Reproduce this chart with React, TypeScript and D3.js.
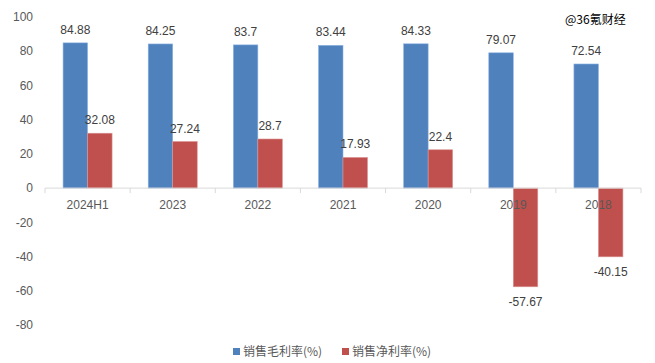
import React, { useEffect, useRef } from 'react';
import * as d3 from 'd3';

const categories = ['2024H1', '2023', '2022', '2021', '2020', '2019', '2018'];
const grossMargin = [84.88, 84.25, 83.7, 83.44, 84.33, 79.07, 72.54];
const netMargin = [32.08, 27.24, 28.7, 17.93, 22.4, -57.67, -40.15];
const seriesNames = ['销售毛利率(%)', '销售净利率(%)'];
const yTicks = [100, 80, 60, 40, 20, 0, -20, -40, -60, -80];

const colors = ['#4F81BD', '#C0504D'];
const numFont = '"Liberation Sans", Arial, sans-serif';
const cjkFont = '"Noto Sans CJK SC", sans-serif';

const App = () => {
    const ref = useRef<SVGSVGElement>(null);

    useEffect(() => {
        const svg = d3.select(ref.current);
        svg.selectAll('*').remove();

        const left = 45, right = 641;
        const y = d3.scaleLinear().domain([-80, 100]).range([325, 17]);
        const x = d3.scaleBand().domain(categories).range([left, right]);
        const barW = 24.5;

        // y tick labels
        svg.append('g')
            .selectAll('text')
            .data(yTicks)
            .enter().append('text')
            .attr('x', 33)
            .attr('y', d => y(d))
            .attr('dy', '0.35em')
            .attr('text-anchor', 'end')
            .attr('font-family', numFont)
            .attr('font-size', 12)
            .attr('fill', '#595959')
            .text(d => d);

        const series = [grossMargin, netMargin];
        series.forEach((vals, s) => {
            const g = svg.append('g');
            g.selectAll('rect')
                .data(vals)
                .enter().append('rect')
                .attr('x', (d, i) => x(categories[i])! + x.bandwidth() / 2 - barW + s * barW)
                .attr('y', d => y(Math.max(0, d)))
                .attr('width', barW)
                .attr('height', d => Math.abs(y(d) - y(0)))
                .attr('fill', colors[s])
                .attr('stroke', s === 0 ? '#8eb4e3' : '#d99694')
                .attr('stroke-width', 0.6);

            g.selectAll('text')
                .data(vals)
                .enter().append('text')
                .attr('x', (d, i) => x(categories[i])! + x.bandwidth() / 2 - barW / 2 + s * barW)
                .attr('y', d => d >= 0 ? y(d) - 9 : y(d) + 19)
                .attr('text-anchor', 'middle')
                .attr('font-family', numFont)
                .attr('font-size', 12)
                .attr('fill', '#404040')
                .text(d => d);
        });

        // x axis
        const axis = svg.append('g');
        axis.append('line')
            .attr('x1', left).attr('x2', right)
            .attr('y1', y(0)).attr('y2', y(0))
            .attr('stroke', '#d9d9d9');
        const edges = categories.map(c => x(c)!).concat([right]);
        axis.selectAll('.tick')
            .data(edges)
            .enter().append('line')
            .attr('x1', d => d).attr('x2', d => d)
            .attr('y1', y(0)).attr('y2', y(0) + 5)
            .attr('stroke', '#d9d9d9');
        axis.selectAll('text')
            .data(categories)
            .enter().append('text')
            .attr('x', d => x(d)! + x.bandwidth() / 2)
            .attr('y', y(0) + 21)
            .attr('text-anchor', 'middle')
            .attr('font-family', numFont)
            .attr('font-size', 12)
            .attr('fill', '#595959')
            .text(d => d);

        // legend
        const legendX = [233, 342];
        seriesNames.forEach((name, i) => {
            svg.append('rect')
                .attr('x', legendX[i]).attr('y', 348)
                .attr('width', 7).attr('height', 7)
                .attr('fill', colors[i]);
            svg.append('text')
                .attr('x', legendX[i] + 10).attr('y', 352)
                .attr('dy', '0.35em')
                .attr('font-family', cjkFont)
                .attr('font-size', 12)
                .attr('fill', '#595959')
                .text(name);
        });

        // watermark
        svg.append('text')
            .attr('x', 565).attr('y', 24)
            .attr('font-family', cjkFont)
            .attr('font-size', 12)
            .attr('fill', '#000')
            .text('@36氪财经');
    }, []);

    return (
        <svg ref={ref} width={655} height={363}
            style={{ position: 'absolute', left: 0, top: 0, background: '#fff' }} />
    );
};

export default App;
